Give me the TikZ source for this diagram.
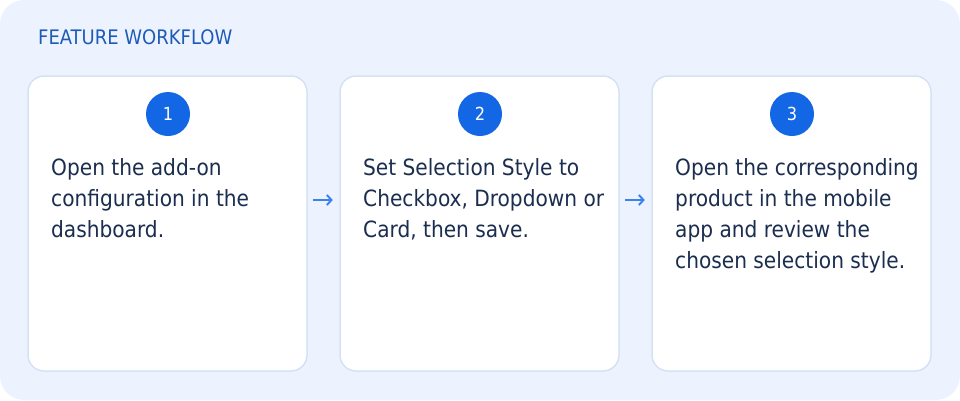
\documentclass[tikz,border=0pt]{standalone}
\usepackage{fontspec}
\setmainfont{DejaVu Sans Condensed}
\usetikzlibrary{arrows.meta,positioning}
\definecolor{pagebg}{HTML}{EDF3FE}
\definecolor{cardline}{HTML}{D5E2F6}
\definecolor{stepblue}{HTML}{1467E4}
\definecolor{headblue}{HTML}{1E5BB8}
\definecolor{bodyink}{HTML}{1B2E4F}
\definecolor{flowblue}{HTML}{3C82EE}
\tikzset{
	card/.style={draw=cardline, line width=1.5pt, fill=white, rounded corners=16pt,
		minimum width=279pt, minimum height=295pt, inner sep=0pt},
	badge/.style={circle, fill=stepblue, text=white, minimum size=44pt, inner sep=0pt,
		font=\fontsize{18}{18}\selectfont},
	stepnote/.style={anchor=base west, align=left, inner sep=0pt, text=bodyink,
		font=\fontsize{22.4}{31}\selectfont},
	flow/.style={draw=flowblue, line width=2pt, -{Straight Barb[length=4.5pt,width=10pt]},
		shorten <=5.5pt, shorten >=6.5pt}
}
\begin{document}
\begin{tikzpicture}[x=1pt,y=-1pt]
	\useasboundingbox (0,0) rectangle (960,400);
	\fill[pagebg, rounded corners=24pt] (0,0) rectangle (960,400);
	
	\node[anchor=base west, inner sep=0pt, text=headblue, font=\fontsize{20}{20}\selectfont] (title) at (38,44) {FEATURE WORKFLOW};
	
	% the three steps
	\node[card] (c1) at (167.5,223.5) {};
	\node[card] (c2) at (479.5,223.5) {};
	\node[card] (c3) at (791.5,223.5) {};
	
	\node[badge] (n1) at (168,114) {1};
	\node[badge] (n2) at (480,114) {2};
	\node[badge] (n3) at (792,114) {3};
	
	% base = last line, first line sits at y=175
	\node[stepnote] (t1) at (51,237) {Open the add-on\\configuration in the\\dashboard.};
	\node[stepnote] (t2) at (363,237) {Set Selection Style to\\Checkbox, Dropdown or\\Card, then save.};
	\node[stepnote] (t3) at (675,268) {Open the corresponding\\product in the mobile\\app and review the\\chosen selection style.};
	
	\draw[flow] ([yshift=23.5pt]c1.east) -- ([yshift=23.5pt]c2.west);
	\draw[flow] ([yshift=23.5pt]c2.east) -- ([yshift=23.5pt]c3.west);
\end{tikzpicture}
\end{document}
